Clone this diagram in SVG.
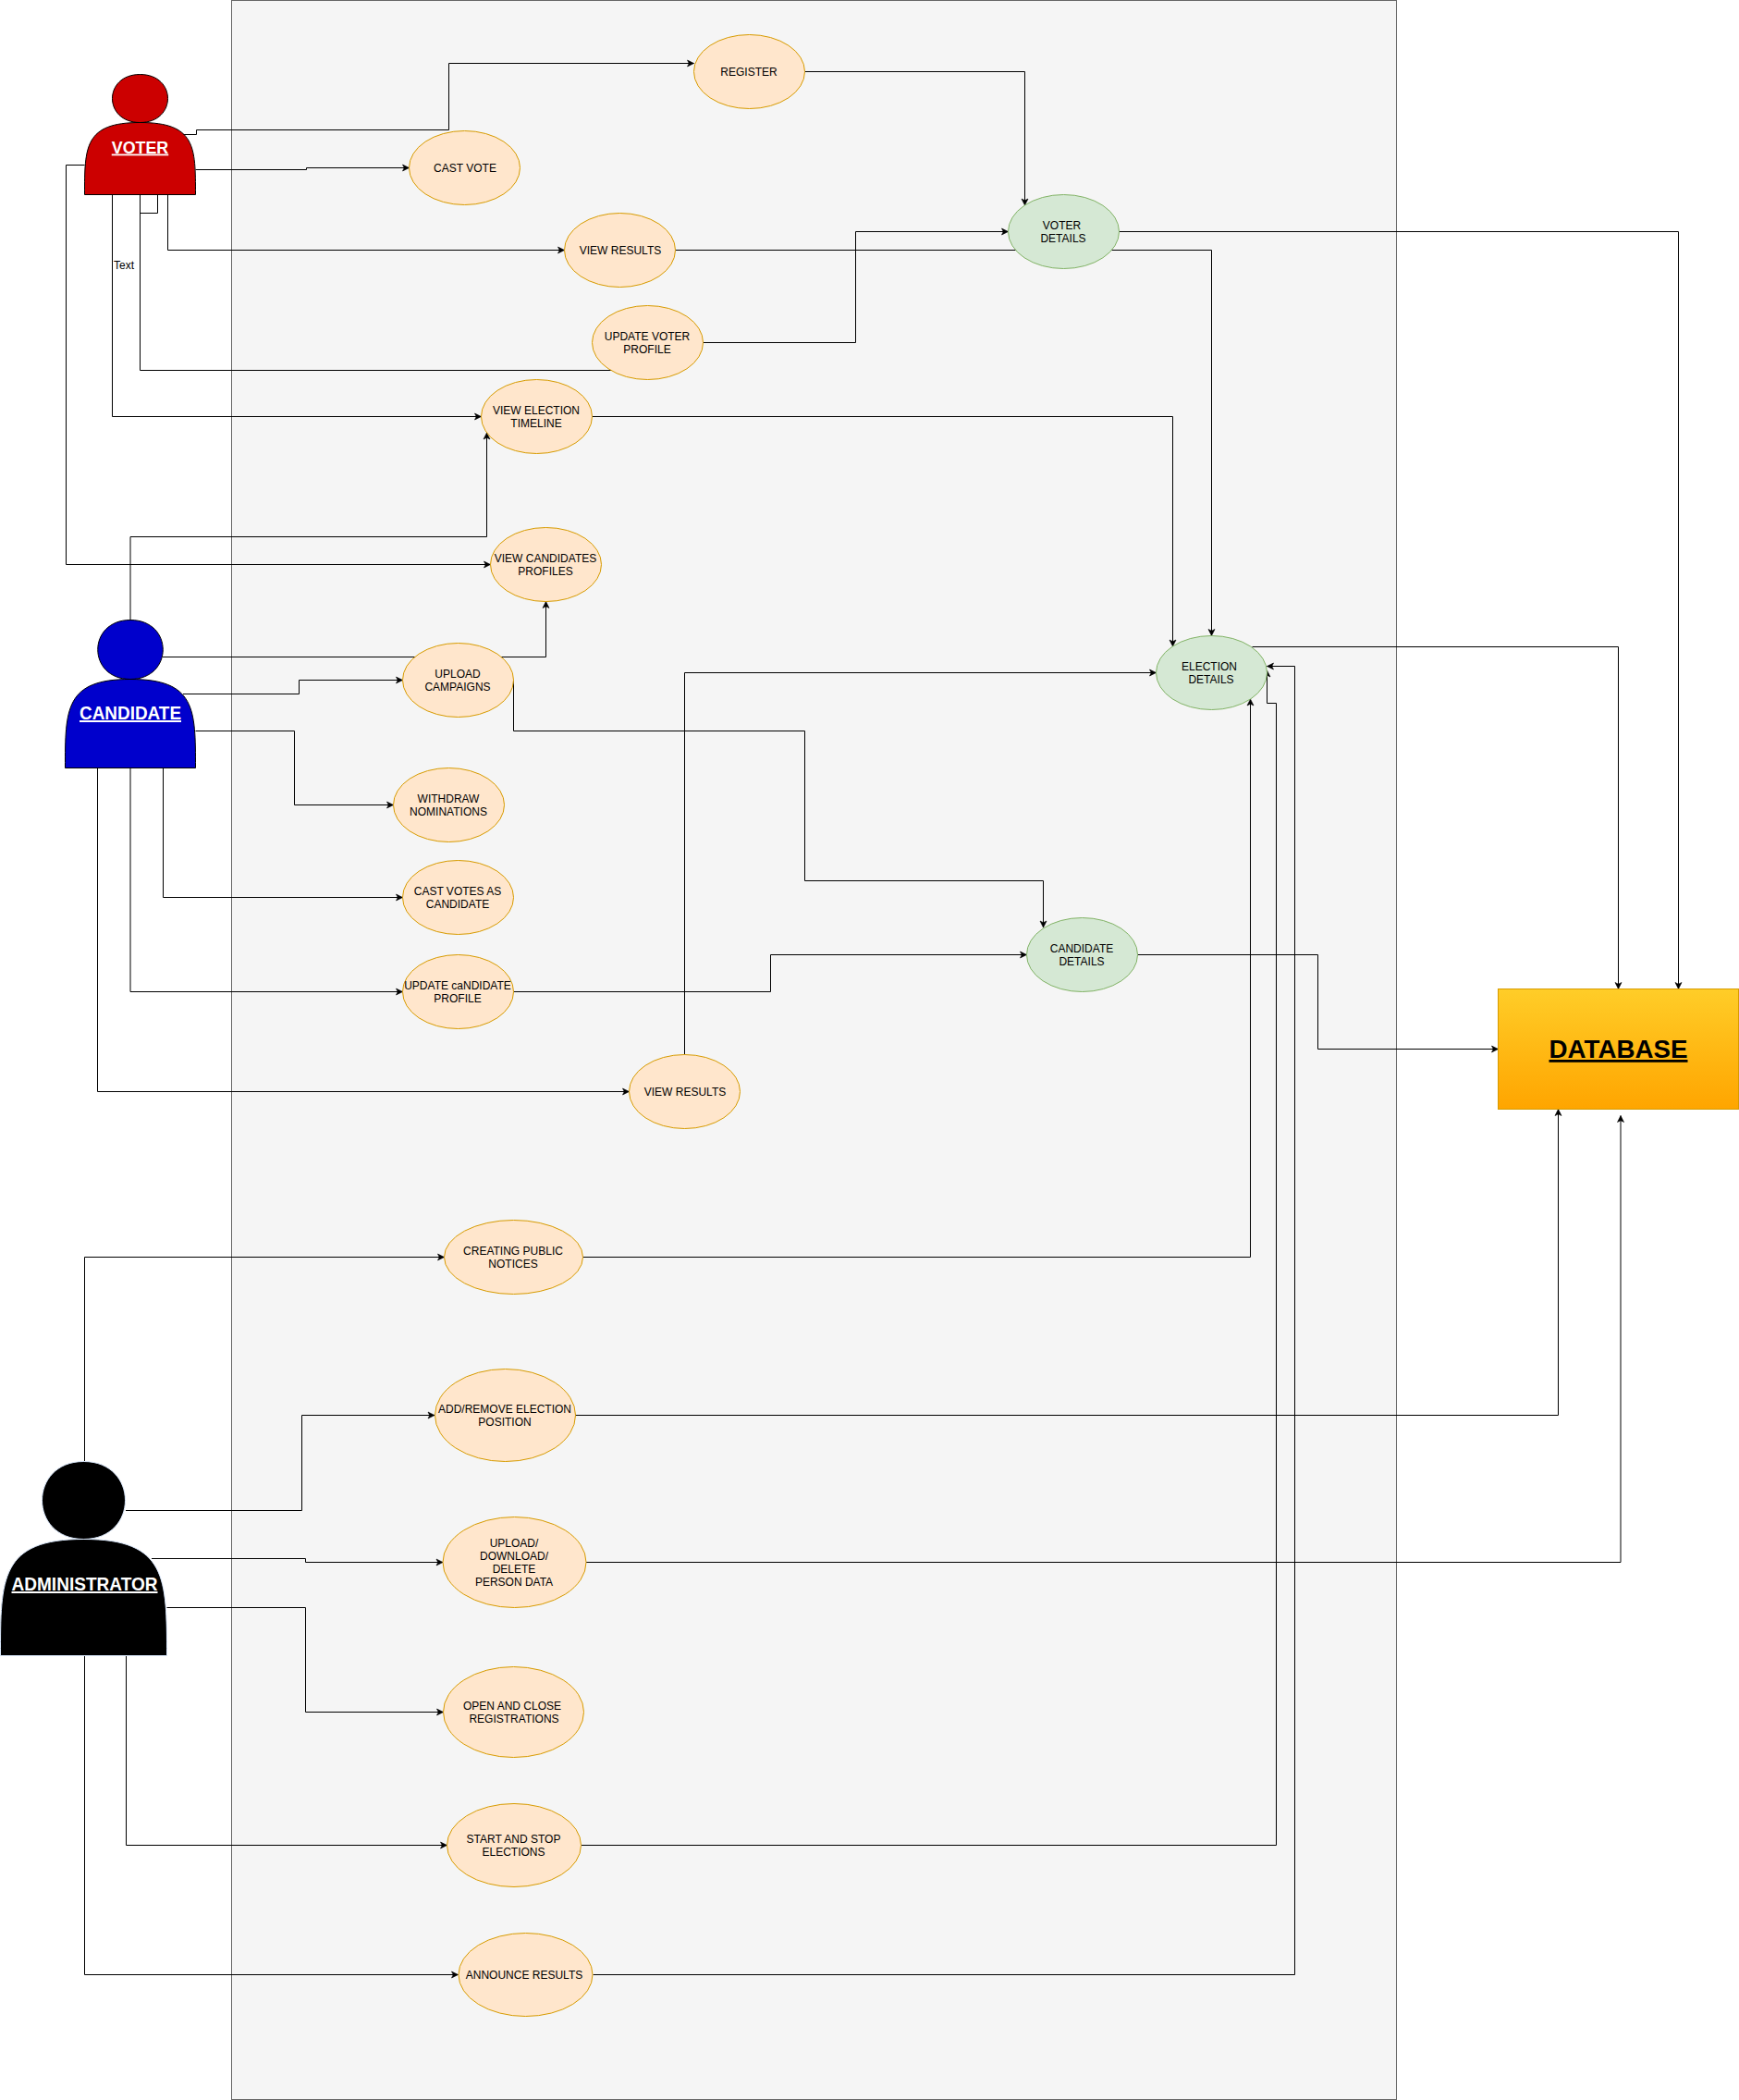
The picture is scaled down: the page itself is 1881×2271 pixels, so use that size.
<svg xmlns="http://www.w3.org/2000/svg" width="1881" height="2271" viewBox="0 0 1881 2271">
<style>
text{font-family:"Liberation Sans",Arial,sans-serif;font-size:12px;fill:#000;text-anchor:middle}
.use{fill:#ffe6cc;stroke:#d79b00;stroke-width:1}
.data{fill:#d5e8d4;stroke:#82b366;stroke-width:1}
.edge{fill:none;stroke:#000;stroke-width:1}
.arr{marker-end:url(#arrow)}
.title{font-weight:bold;font-size:20px;fill:#fff;text-decoration:underline}
</style>
<defs>
<marker id="arrow" markerUnits="userSpaceOnUse" markerWidth="9" markerHeight="9" refX="8" refY="4.5" orient="auto">
<path d="M8,4.5 L1,8 L2.75,4.5 L1,1 Z" fill="#000" stroke="#000" stroke-width="0.6"/>
</marker>
<linearGradient id="dbfill" x1="0" y1="0" x2="0" y2="1">
<stop offset="0" stop-color="#ffcd28"/>
<stop offset="1" stop-color="#ffa500"/>
</linearGradient>
</defs>
<rect id="background" width="1881" height="2271" fill="#fff"/>
<rect id="system-boundary" x="250.5" y="0.5" width="1260" height="2270" fill="#f5f5f5" stroke="#666"/>
<g id="connectors">
<path class="edge arr" d="M198,145.5 H212.5 V140.5 H485.5 V68.5 H750.5"/>
<path class="edge arr" d="M211.5,183.5 H331.5 V181.5 H442.5"/>
<path class="edge arr" d="M181.5,210.5 V270.5 H610.5"/>
<path class="edge arr" d="M91.5,178.5 H71.5 V610.5 H530.5"/>
<path class="edge" d="M170.5,210.5 V230.5 H151.5"/>
<path class="edge" d="M151.5,210.5 V400.5 H662"/>
<path class="edge arr" d="M121.5,210.5 V450.5 H520.5"/>
<text x="134" y="290.5">Text</text>
<path class="edge arr" d="M141,670 V580.5 H526.5 V468"/>
<path class="edge arr" d="M176,710.5 H590.5 V650.5"/>
<path class="edge arr" d="M198,750.5 H323.5 V735.5 H435.5"/>
<path class="edge arr" d="M211.5,790.5 H318.5 V870.5 H425.5"/>
<path class="edge arr" d="M176.5,830.5 V970.5 H435.5"/>
<path class="edge arr" d="M141,830.5 V1072.5 H435.5"/>
<path class="edge arr" d="M105.5,830.5 V1180.5 H680.5"/>
<path class="edge arr" d="M555.5,735.5 V790.5 H870.5 V952.5 H1128.5 V1003"/>
<path class="edge arr" d="M740.5,1140.5 V727.5 H1250.5"/>
<path class="edge arr" d="M555.5,1072.5 H833.5 V1032.5 H1110.5"/>
<path class="edge arr" d="M1230.5,1032.5 H1425.5 V1134.5 H1620.5"/>
<path class="edge arr" d="M870.5,77.5 H1108.5 V222"/>
<path class="edge arr" d="M760.5,370.5 H925.5 V250.5 H1090.5"/>
<path class="edge arr" d="M730.5,270.5 H1310.5 V687.5"/>
<path class="edge arr" d="M640.5,450.5 H1268.5 V699"/>
<path class="edge arr" d="M1210.5,250.5 H1815.5 V1069.5"/>
<path class="edge arr" d="M1354.5,699.5 H1750.5 V1069.5"/>
<path class="edge arr" d="M630.5,1359.5 H1352.5 V756"/>
<path class="edge arr" d="M622,1530.5 H1685.5 V1199.5"/>
<path class="edge arr" d="M634,1689.5 H1753 V1206.5"/>
<path class="edge arr" d="M629,1995.5 H1380.5 V760.5 H1370.5 V725"/>
<path class="edge arr" d="M641.5,2135.5 H1400.5 V720.5 H1370.5"/>
<path class="edge arr" d="M91.5,1580.5 V1359.5 H480.5"/>
<path class="edge arr" d="M136,1633.5 H326.5 V1530.5 H470"/>
<path class="edge arr" d="M164,1685.5 H330.5 V1689.5 H479"/>
<path class="edge arr" d="M180.5,1738.5 H330.5 V1851.5 H479.5"/>
<path class="edge arr" d="M136.5,1790.5 V1995.5 H483.5"/>
<path class="edge arr" d="M91.5,1790.5 V2135.5 H495.5"/>
</g>
<g id="voter">
<path d="M91.5,210.5 C91.5,158.5 91.5,132.5 151.5,132.5 C111.5,132.5 111.5,80.5 151.5,80.5 C191.5,80.5 191.5,132.5 151.5,132.5 C211.5,132.5 211.5,158.5 211.5,210.5 Z" fill="#cc0000" stroke="#000"/>
<text class="title" x="151.5" y="165.5" style="font-size:18px" textLength="61.5" lengthAdjust="spacingAndGlyphs">VOTER</text>
</g>
<g id="candidate">
<path d="M70.5,830.5 C70.5,766.5 70.5,734.5 141,734.5 C94,734.5 94,670.5 141,670.5 C188,670.5 188,734.5 141,734.5 C211.5,734.5 211.5,766.5 211.5,830.5 Z" fill="#0000cc" stroke="#000"/>
<text class="title" x="141" y="778" textLength="110" lengthAdjust="spacingAndGlyphs">CANDIDATE</text>
</g>
<g id="administrator">
<path d="M0.5,1790.5 C0.5,1706.5 0.5,1664.5 90.5,1664.5 C30.5,1664.5 30.5,1580.5 90.5,1580.5 C150.5,1580.5 150.5,1664.5 90.5,1664.5 C180.5,1664.5 180.5,1706.5 180.5,1790.5 Z" fill="#000" stroke="#dae8fc"/>
<text class="title" x="91.5" y="1720" textLength="158" lengthAdjust="spacingAndGlyphs">ADMINISTRATOR</text>
</g>
<g id="register"><ellipse class="use" cx="810.5" cy="77.5" rx="60" ry="40"/><text x="810" y="81.5">REGISTER</text></g>
<g id="cast-vote"><ellipse class="use" cx="502.5" cy="181.5" rx="60" ry="40"/><text x="503" y="185.5">CAST VOTE</text></g>
<g id="view-results-voter"><ellipse class="use" cx="670.5" cy="270.5" rx="60" ry="40"/><text x="671" y="274.5">VIEW RESULTS</text></g>
<g id="update-voter-profile"><ellipse class="use" cx="700.5" cy="370.5" rx="60" ry="40"/><text x="700" y="367.5">UPDATE VOTER</text><text x="700" y="381.5">PROFILE</text></g>
<g id="view-election-timeline"><ellipse class="use" cx="580.5" cy="450.5" rx="60" ry="40"/><text x="580" y="447.5">VIEW ELECTION</text><text x="580" y="461.5">TIMELINE</text></g>
<g id="view-candidates-profiles"><ellipse class="use" cx="590.5" cy="610.5" rx="60" ry="40"/><text x="590" y="607.5">VIEW CANDIDATES</text><text x="590" y="621.5">PROFILES</text></g>
<g id="upload-campaigns"><ellipse class="use" cx="495.5" cy="735.5" rx="60" ry="40"/><text x="495" y="732.5">UPLOAD</text><text x="495" y="746.5">CAMPAIGNS</text></g>
<g id="withdraw-nominations"><ellipse class="use" cx="485.5" cy="870.5" rx="60" ry="40"/><text x="485" y="867.5">WITHDRAW</text><text x="485" y="881.5">NOMINATIONS</text></g>
<g id="cast-votes-candidate"><ellipse class="use" cx="495.5" cy="970.5" rx="60" ry="40"/><text x="495" y="967.5">CAST VOTES AS</text><text x="495" y="981.5">CANDIDATE</text></g>
<g id="update-candidate-profile"><ellipse class="use" cx="495.5" cy="1072.5" rx="60" ry="40"/><text x="495" y="1069.5">UPDATE caNDIDATE</text><text x="495" y="1083.5">PROFILE</text></g>
<g id="view-results-candidate"><ellipse class="use" cx="740.5" cy="1180.5" rx="60" ry="40"/><text x="741" y="1184.5">VIEW RESULTS</text></g>
<g id="voter-details"><ellipse class="data" cx="1150.5" cy="250.5" rx="60" ry="40"/><text x="1148.5" y="247.5">VOTER</text><text x="1150" y="261.5">DETAILS</text></g>
<g id="election-details"><ellipse class="data" cx="1310.5" cy="727.5" rx="60" ry="40"/><text x="1308" y="724.5">ELECTION</text><text x="1310" y="738.5">DETAILS</text></g>
<g id="candidate-details"><ellipse class="data" cx="1170.5" cy="1032.5" rx="60" ry="40"/><text x="1170" y="1029.5">CANDIDATE</text><text x="1170" y="1043.5">DETAILS</text></g>
<g id="creating-public-notices"><ellipse class="use" cx="555.5" cy="1359.5" rx="75" ry="40"/><text x="555" y="1356.5">CREATING PUBLIC</text><text x="555" y="1370.5">NOTICES</text></g>
<g id="add-remove-election-position"><ellipse class="use" cx="546.5" cy="1530.5" rx="76" ry="50"/><text x="546" y="1527.5">ADD/REMOVE ELECTION</text><text x="546" y="1541.5">POSITION</text></g>
<g id="upload-download-delete"><ellipse class="use" cx="556.5" cy="1689.5" rx="77.5" ry="49"/><text x="556" y="1672.5">UPLOAD/</text><text x="556" y="1686.5">DOWNLOAD/</text><text x="556" y="1700.5">DELETE</text><text x="556" y="1714.5">PERSON DATA</text></g>
<g id="open-close-registrations"><ellipse class="use" cx="555.5" cy="1851.5" rx="76" ry="49"/><text x="554" y="1848.5">OPEN AND CLOSE</text><text x="556" y="1862.5">REGISTRATIONS</text></g>
<g id="start-stop-elections"><ellipse class="use" cx="556" cy="1995.5" rx="72.5" ry="45"/><text x="555.5" y="1992.5">START AND STOP</text><text x="555.5" y="2006.5">ELECTIONS</text></g>
<g id="announce-results"><ellipse class="use" cx="568.5" cy="2135.5" rx="72.5" ry="45"/><text x="567" y="2139.5">ANNOUNCE RESULTS</text></g>
<g id="database"><rect x="1620.5" y="1069.5" width="260" height="130" fill="url(#dbfill)" stroke="#d79b00"/><text x="1750.5" y="1144" style="font-weight:bold;font-size:28px;text-decoration:underline" textLength="150" lengthAdjust="spacingAndGlyphs">DATABASE</text></g>
</svg>
